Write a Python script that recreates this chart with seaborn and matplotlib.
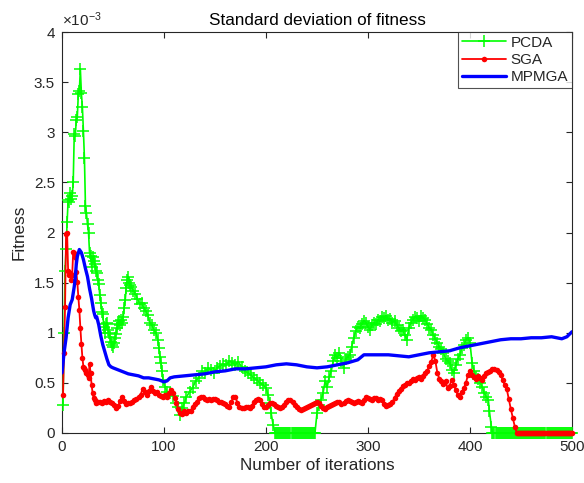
import matplotlib
matplotlib.use("Agg")
import matplotlib.pyplot as plt
from matplotlib.ticker import FuncFormatter
import pandas as pd
import seaborn as sns

# ---- data (fitness standard deviation, in units of 1e-3) ----
pcda_iter = [1, 2, 3, 4, 5, 6, 7, 8, 9, 10, 11, 12, 13, 14, 15, 16, 17, 18, 19, 20,
             21, 22, 23, 24, 25, 26, 27, 28, 29, 30, 31, 32, 33, 34, 35, 36, 37, 38, 39, 40,
             41, 42, 43, 44, 45, 46, 47, 48, 49, 50, 51, 52, 53, 54, 55, 56, 57, 58, 59, 60,
             61, 62, 63, 64, 65, 66, 67, 68, 70, 72, 74, 76, 78, 80, 82, 84, 86, 88, 90, 92,
             94, 95, 96, 97, 98, 99, 101, 103, 106, 109, 112, 114, 116, 118, 120, 122, 125, 128, 131, 134,
             137, 140, 143, 146, 149, 152, 155, 158, 161, 164, 167, 170, 173, 176, 179, 182, 185, 188, 191, 194,
             197, 200, 202, 204, 205, 207,
             250, 252, 254, 256, 258, 260, 262, 264, 266, 268, 270, 272, 274, 276, 278, 280, 282, 284, 286, 288,
             290, 292, 294, 296, 298, 300, 302, 304, 306, 308, 310, 312, 314, 316, 318, 320, 322, 324, 326, 328,
             330, 332, 334, 336, 338, 340, 342, 344, 346, 348, 350, 352, 354, 356, 358, 360, 362, 364, 366, 368,
             370, 372, 374, 376, 378, 380, 382, 384, 386, 388, 390, 392, 394, 396, 398, 400, 402, 404, 406, 408,
             410, 412, 414, 416, 418, 419, 421]
pcda_val = [0.28, 1.00, 1.62, 1.84, 2.10, 2.32, 2.30, 2.39, 2.33, 2.36, 2.50, 2.98, 2.96, 3.12, 3.15, 3.38, 3.41, 3.63, 3.39, 3.25,
            3.01, 2.74, 2.26, 2.19, 2.08, 2.00, 1.80, 1.77, 1.66, 1.76, 1.72, 1.69, 1.62, 1.60, 1.53, 1.49, 1.38, 1.30, 1.21, 1.19,
            1.06, 1.00, 1.09, 1.10, 1.03, 1.00, 0.96, 0.91, 0.88, 0.86, 0.90, 0.95, 0.99, 1.05, 1.09, 1.12, 1.08, 1.13, 1.10, 1.16,
            1.25, 1.33, 1.45, 1.53, 1.56, 1.50, 1.48, 1.46, 1.42, 1.39, 1.34, 1.29, 1.30, 1.25, 1.22, 1.18, 1.10, 1.08, 1.03, 1.00,
            0.93, 0.85, 0.76, 0.70, 0.62, 0.53, 0.46, 0.41, 0.40, 0.37, 0.30, 0.26, 0.18, 0.25, 0.30, 0.36, 0.41, 0.45, 0.52, 0.55,
            0.62, 0.60, 0.65, 0.63, 0.60, 0.65, 0.67, 0.69, 0.68, 0.72, 0.70, 0.68, 0.71, 0.66, 0.62, 0.60, 0.58, 0.55, 0.53, 0.50,
            0.48, 0.45, 0.38, 0.30, 0.20, 0.08,
            0.20, 0.28, 0.33, 0.40, 0.52, 0.46, 0.56, 0.62, 0.72, 0.78, 0.75, 0.80, 0.72, 0.65, 0.74, 0.76, 0.78, 0.86, 0.95, 1.02,
            1.06, 1.05, 1.09, 1.12, 1.10, 1.06, 1.03, 1.08, 1.10, 1.09, 1.13, 1.12, 1.16, 1.15, 1.17, 1.13, 1.14, 1.10, 1.12, 1.08,
            1.05, 1.02, 1.03, 0.98, 0.93, 1.05, 1.10, 1.13, 1.16, 1.15, 1.12, 1.17, 1.15, 1.13, 1.09, 1.05, 1.03, 0.98, 0.94, 0.90,
            0.86, 0.84, 0.80, 0.74, 0.72, 0.70, 0.63, 0.60, 0.68, 0.74, 0.78, 0.85, 0.88, 0.93, 0.95, 0.90, 0.70, 0.62, 0.56, 0.54,
            0.50, 0.46, 0.40, 0.36, 0.33, 0.22, 0.06]
# iterations where PCDA's deviation has collapsed to zero (first, last)
pcda_zero_spans = [(209, 248), (422, 500)]

sga_iter = [1, 2, 3, 4, 5, 6, 7, 8, 9, 10, 11, 12, 13, 14, 15, 16, 17, 18, 19, 20,
            21, 22, 23, 24, 25, 26, 27, 28, 29, 30, 31, 32, 33, 35, 37, 39, 41, 43, 45, 47,
            49, 51, 53, 55, 57, 59, 61, 63, 65, 67, 69, 71, 73, 75, 77, 79, 81, 83, 85, 87,
            89, 91, 93, 95, 97, 99, 101, 103, 105, 107, 109, 111, 112, 114, 116, 118, 120, 122, 124, 126,
            128, 130, 132, 134, 136, 138, 140, 142, 144, 146, 148, 150, 152, 154, 156, 158, 160, 162, 164, 166,
            168, 170, 172, 174, 176, 178, 180, 182, 184, 186, 188, 190, 192, 194, 196, 198, 200, 202, 204, 206,
            208, 210, 212, 214, 216, 218, 220, 222, 224, 226, 228, 230, 232, 234, 236, 238, 240, 242, 244, 246,
            248, 250, 252, 254, 256, 258, 260, 262, 264, 266, 268, 270, 272, 274, 276, 278, 280, 282, 284, 286,
            288, 290, 292, 294, 296, 298, 300, 302, 304, 306, 308, 310, 312, 314, 316, 318, 320, 322, 324, 326,
            328, 330, 332, 334, 336, 338, 340, 342, 344, 346, 348, 350, 352, 354, 356, 358, 360, 362, 364, 366,
            368, 370, 372, 374, 376, 378, 380, 382, 384, 386, 388, 390, 392, 394, 396, 398, 400, 402, 404, 406,
            408, 410, 412, 414, 416, 418, 420, 422, 424, 426, 428, 430, 432, 434, 436, 438, 440, 442, 444]
sga_val = [0.38, 0.80, 1.26, 1.99, 2.00, 1.62, 1.58, 1.60, 1.53, 1.58, 1.81, 1.80, 1.76, 1.61, 1.51, 1.36, 1.23, 1.05, 0.89, 0.75,
           0.66, 0.65, 0.63, 0.60, 0.58, 0.55, 0.69, 0.60, 0.48, 0.40, 0.35, 0.33, 0.30, 0.31, 0.31, 0.30, 0.32, 0.31, 0.33, 0.31,
           0.30, 0.28, 0.25, 0.27, 0.32, 0.36, 0.32, 0.29, 0.30, 0.30, 0.31, 0.33, 0.34, 0.36, 0.38, 0.44, 0.41, 0.38, 0.42, 0.46,
           0.42, 0.40, 0.41, 0.38, 0.37, 0.36, 0.38, 0.36, 0.40, 0.43, 0.40, 0.35, 0.30, 0.24, 0.20, 0.19, 0.22, 0.20, 0.22, 0.22,
           0.26, 0.29, 0.31, 0.35, 0.36, 0.36, 0.34, 0.33, 0.34, 0.33, 0.34, 0.34, 0.33, 0.31, 0.31, 0.30, 0.29, 0.27, 0.26, 0.31,
           0.36, 0.36, 0.30, 0.26, 0.25, 0.25, 0.26, 0.26, 0.25, 0.27, 0.31, 0.33, 0.34, 0.33, 0.29, 0.26, 0.26, 0.28, 0.30, 0.30,
           0.29, 0.27, 0.26, 0.25, 0.26, 0.28, 0.31, 0.33, 0.33, 0.31, 0.28, 0.26, 0.24, 0.23, 0.24, 0.25, 0.26, 0.27, 0.28, 0.29,
           0.30, 0.31, 0.30, 0.27, 0.25, 0.24, 0.26, 0.27, 0.28, 0.29, 0.30, 0.31, 0.31, 0.29, 0.30, 0.32, 0.33, 0.32, 0.31, 0.30,
           0.31, 0.32, 0.31, 0.30, 0.33, 0.36, 0.35, 0.34, 0.33, 0.35, 0.35, 0.33, 0.34, 0.33, 0.29, 0.27, 0.28, 0.29, 0.31, 0.35,
           0.39, 0.42, 0.44, 0.47, 0.48, 0.50, 0.50, 0.52, 0.54, 0.53, 0.55, 0.56, 0.54, 0.57, 0.60, 0.62, 0.67, 0.71, 0.78, 0.72,
           0.60, 0.54, 0.52, 0.49, 0.52, 0.45, 0.47, 0.53, 0.48, 0.43, 0.38, 0.36, 0.41, 0.45, 0.50, 0.58, 0.62, 0.58, 0.56, 0.54,
           0.57, 0.55, 0.53, 0.57, 0.60, 0.61, 0.62, 0.64, 0.64, 0.63, 0.61, 0.58, 0.53, 0.48, 0.44, 0.34, 0.24, 0.15, 0.06]
# iterations where SGA's deviation is zero (first, last)
sga_zero_spans = [(446, 500)]

mpmga_iter = [0, 2, 4, 6, 8, 10, 12, 13, 14, 15, 17, 19, 21, 23, 25, 27, 29, 31, 32, 33,
              34, 36, 38, 40, 42, 44, 46, 48, 50, 55, 60, 65, 70, 75, 80, 85, 90, 95, 100, 103,
              106, 110, 120, 130, 140, 150, 160, 170, 180, 190, 200, 210, 220, 230, 240, 250, 260, 270, 280, 290,
              296, 300, 310, 320, 330, 340, 350, 360, 370, 380, 390, 400, 410, 420, 430, 440, 450, 460, 470, 480,
              490, 495, 500]
mpmga_val = [0.60, 0.80, 0.95, 1.15, 1.28, 1.33, 1.46, 1.55, 1.68, 1.76, 1.83, 1.80, 1.73, 1.64, 1.56, 1.44, 1.34, 1.22, 1.18, 1.15,
             1.16, 1.08, 0.97, 0.88, 0.81, 0.74, 0.68, 0.66, 0.65, 0.63, 0.61, 0.59, 0.58, 0.57, 0.55, 0.55, 0.54, 0.53, 0.51, 0.52,
             0.55, 0.56, 0.57, 0.58, 0.59, 0.61, 0.62, 0.64, 0.64, 0.65, 0.66, 0.68, 0.69, 0.68, 0.66, 0.65, 0.66, 0.68, 0.70, 0.73,
             0.78, 0.78, 0.78, 0.78, 0.77, 0.76, 0.78, 0.80, 0.81, 0.82, 0.85, 0.87, 0.89, 0.91, 0.93, 0.94, 0.94, 0.95, 0.95, 0.96,
             0.94, 0.96, 1.01]

x_ticks = [0, 100, 200, 300, 400, 500]
y_ticks = [0, 0.5, 1, 1.5, 2, 2.5, 3, 3.5, 4]


def with_zero_spans(iters, vals, spans):
    """Add one zero reading per iteration inside each flat span."""
    rows = list(zip(iters, vals))
    for a, b in spans:
        rows += [(i, 0.0) for i in range(a, b + 1)]
    rows.sort()
    return pd.DataFrame(rows, columns=["iter", "fit"])


pcda = with_zero_spans(pcda_iter, pcda_val, pcda_zero_spans)
sga = with_zero_spans(sga_iter, sga_val, sga_zero_spans)
mpmga = pd.DataFrame({"iter": mpmga_iter, "fit": mpmga_val})

# ---- style ----
sns.set_style("ticks")
plt.rcParams["font.family"] = ["Liberation Sans", "DejaVu Sans"]
plt.rcParams["mathtext.default"] = "regular"
dark = "#262626"
green, red, blue = (0, 1, 0), (1, 0, 0), (0, 0, 1)

fig = plt.figure(figsize=(5.84, 4.83), dpi=100)
ax = fig.add_axes([62 / 584, 50 / 483, 510 / 584, 401 / 483])

sns.lineplot(data=pcda, x="iter", y="fit", ax=ax, color=green, lw=1.2,
             marker="+", markersize=9, markeredgewidth=1.1, markeredgecolor=green,
             estimator=None, sort=False, label="PCDA", clip_on=False)
sns.lineplot(data=sga, x="iter", y="fit", ax=ax, color=red, lw=1.3,
             marker="o", markersize=4, markeredgewidth=0, markeredgecolor=red,
             markerfacecolor=red, estimator=None, sort=False, label="SGA",
             clip_on=False)
sns.lineplot(data=mpmga, x="iter", y="fit", ax=ax, color=blue, lw=2.4,
             estimator=None, sort=False, label="MPMGA")

ax.set_xlim(0, 500)
ax.set_ylim(0, 4)
ax.set_xticks(x_ticks)
ax.set_yticks(y_ticks)
ax.yaxis.set_major_formatter(FuncFormatter(lambda v, p: f"{v:g}"))
ax.tick_params(direction="in", length=4, width=0.8, top=True, right=True,
               labelsize=11, colors=dark, labelcolor=dark, pad=5)
for s in ax.spines.values():
    s.set_visible(True)
    s.set_color(dark)
    s.set_linewidth(0.8)
    s.set_zorder(0.5)

ax.set_xlabel("Number of iterations", fontsize=12.3, color=dark, labelpad=3)
ax.set_ylabel("Fitness", fontsize=12.3, color=dark, labelpad=5)
ax.set_title("Standard deviation of fitness", fontsize=12.3, color="black", pad=5)
ax.text(0.0, 1.008, r"$\times10^{-3}$", transform=ax.transAxes,
        fontsize=11, color=dark, ha="left", va="bottom")

leg = ax.legend(loc="upper right", fontsize=11, frameon=True, fancybox=False,
                borderaxespad=0, handlelength=2.9, handletextpad=0.3,
                labelspacing=0.2, borderpad=0.25)
leg.get_frame().set_edgecolor(dark)
leg.get_frame().set_linewidth(0.8)
leg.set_zorder(5)

fig.savefig("out.png", dpi=100)
